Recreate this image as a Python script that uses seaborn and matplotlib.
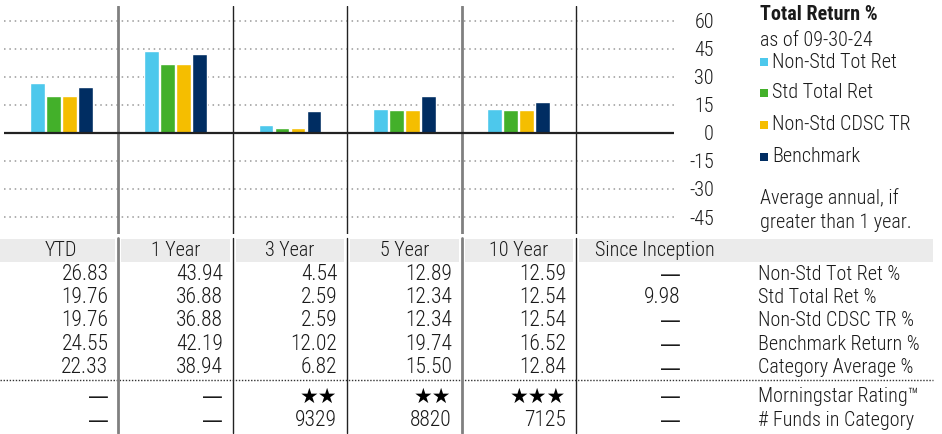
import pandas as pd
import matplotlib
matplotlib.use('Agg')
import matplotlib.pyplot as plt
from matplotlib.patches import Rectangle
import seaborn as sns

# Data
periods = ["YTD", "1 Year", "3 Year", "5 Year", "10 Year", "Since Inception"]
series_names = ["Non-Std Tot Ret", "Std Total Ret", "Non-Std CDSC TR", "Benchmark"]
series_colors = ["#4DC8EC", "#43B02A", "#F5BE00", "#002D62"]

non_std_tot_ret = [26.83, 43.94, 4.54, 12.89, 12.59, None]
std_total_ret = [19.76, 36.88, 2.59, 12.34, 12.54, 9.98]
non_std_cdsc_tr = [19.76, 36.88, 2.59, 12.34, 12.54, None]
benchmark_ret = [24.55, 42.19, 12.02, 19.74, 16.52, None]
category_avg = [22.33, 38.94, 6.82, 15.50, 12.84, None]
ratings = [None, None, 2, 2, 3, None]
funds_in_cat = [None, None, 9329, 8820, 7125, None]

row_labels = ["Non-Std Tot Ret %", "Std Total Ret %", "Non-Std CDSC TR %",
              "Benchmark Return %", "Category Average %"]
yticks = [-45, -30, -15, 0, 15, 30, 45, 60]

# long-form frame for the bars (chart shows the first five periods only)
rows = []
for name, vals in zip(series_names, [non_std_tot_ret, std_total_ret, non_std_cdsc_tr, benchmark_ret]):
    for p, v in zip(periods[:5], vals[:5]):
        rows.append({"period": p, "series": name, "value": v})
df = pd.DataFrame(rows)

sns.set_style("white")
plt.rcParams['font.family'] = ['Roboto Condensed', 'Archivo Narrow', 'DejaVu Sans']
plt.rcParams['font.weight'] = 'light'
plt.rcParams['axes.unicode_minus'] = False
TXT = '#1a1a1a'
DASH = "\u2014"

W, H = 942, 434
fig = plt.figure(figsize=(W / 100, H / 100), dpi=100)

# pixel-coordinate layer for the table and legend
tab = fig.add_axes([0, 0, 1, 1], zorder=0)
tab.set_xlim(0, W)
tab.set_ylim(H, 0)
tab.axis('off')

# chart axes: x 4..674 px, y 6..234 px
ax = fig.add_axes([4 / W, (H - 234) / H, 670 / W, 228 / H], zorder=1)
ax.set_facecolor('none')
col_w = 114.4
sns.barplot(data=df, x="period", y="value", hue="series", order=periods,
            hue_order=series_names, palette=series_colors, saturation=1,
            width=0.56, gap=0.07, legend=False, ax=ax, zorder=3)
ax.set_xlim(-0.5, -0.5 + 670 / col_w)
ax.set_ylim(-54.1, 68.0)
ax.set_yticks(yticks)
ax.yaxis.tick_right()
ax.tick_params(axis='y', length=0, pad=28.8, labelsize=14.5, labelcolor=TXT)
for lbl in ax.get_yticklabels():
    lbl.set_horizontalalignment('right')
ax.set_xticks([])
ax.set_xlabel('')
ax.set_ylabel('')
for s in ax.spines.values():
    s.set_visible(False)
ax.yaxis.grid(True, linestyle=(0, (1, 2.5)), color='#999999', linewidth=1.1, zorder=0)
ax.axhline(0, color='#222222', linewidth=1.6, zorder=4)

sep_styles = [('#808080', 2.0), ('#222222', 1.0), ('#222222', 1.0), ('#808080', 2.0), ('#222222', 1.0)]
for i, (c, lw) in enumerate(sep_styles):
    ax.axvline(i + 0.5, color=c, linewidth=lw, zorder=2)

# legend block
tab.text(760, 15, "Total Return %", fontsize=14.5, fontweight='bold', va='center', ha='left', color=TXT)
tab.text(760, 40, "as of 09-30-24", fontsize=14.5, va='center', ha='left', color=TXT)
for name, c, y in zip(series_names, series_colors, [62, 93, 125, 157]):
    tab.add_patch(Rectangle((760, y - 4), 8, 8, facecolor=c, edgecolor='none'))
    tab.text(772, y, name, fontsize=14.5, va='center', ha='left', color=TXT)
tab.text(760, 198, "Average annual, if", fontsize=14.5, va='center', ha='left', color=TXT)
tab.text(760, 222, "greater than 1 year.", fontsize=14.5, va='center', ha='left', color=TXT)

# table
edges = [4 + col_w * i for i in range(7)]
band_top, band_bot = 239, 262
for i in range(5):
    left = edges[i] + 3 if i else 0
    tab.add_patch(Rectangle((left, band_top), edges[i + 1] - 3 - left,
                            band_bot - band_top, facecolor='#ebebeb', edgecolor='none'))
tab.add_patch(Rectangle((edges[5] + 3, band_top), 933 - edges[5] - 3,
                        band_bot - band_top, facecolor='#ebebeb', edgecolor='none'))
for i, p in enumerate(periods[:5]):
    tab.text((edges[i] + edges[i + 1]) / 2, 251, p, fontsize=14.5, ha='center', va='center', color=TXT)
tab.text(595, 251, periods[5], fontsize=14.5, ha='left', va='center', color=TXT)


def cell(x, y, txt):
    if txt == DASH:
        tab.text(x, y + 1, txt, fontsize=15, ha='right', va='center', color=TXT,
                 family=['DejaVu Sans'], fontweight='normal')
    else:
        tab.text(x, y, txt, fontsize=15.5, ha='right', va='center', color=TXT)


LABEL_X = 758
row_y = [274.5, 297.5, 320.5, 344, 367.5]
table_series = [non_std_tot_ret, std_total_ret, non_std_cdsc_tr, benchmark_ret, category_avg]
for y, vals, lab in zip(row_y, table_series, row_labels):
    for i, v in enumerate(vals):
        cell(edges[i + 1] - 10, y, DASH if v is None else f"{v:.2f}")
    tab.text(LABEL_X, y, lab, fontsize=14.5, ha='left', va='center', color=TXT)

tab.plot([0, 933], [380, 380], linestyle=(0, (1, 1.2)), color='#333333', linewidth=1.0)

for i, r in enumerate(ratings):
    x = edges[i + 1] - 10
    if r is None:
        cell(x, 396, DASH)
    else:
        tab.text(x, 397, "★" * r, fontsize=15, ha='right', va='center',
                 family=['DejaVu Sans'], fontweight='normal', color='black')
tab.text(LABEL_X, 396, "Morningstar Rating™", fontsize=14.5, ha='left', va='center', color=TXT)
for i, n in enumerate(funds_in_cat):
    cell(edges[i + 1] - 10, 420, DASH if n is None else str(n))
tab.text(LABEL_X, 420, "# Funds in Category", fontsize=14.5, ha='left', va='center', color=TXT)

for i, (c, lw) in enumerate(sep_styles):
    tab.plot([edges[i + 1], edges[i + 1]], [238, 433], color=c, linewidth=lw)

fig.savefig("out.png", dpi=100)
